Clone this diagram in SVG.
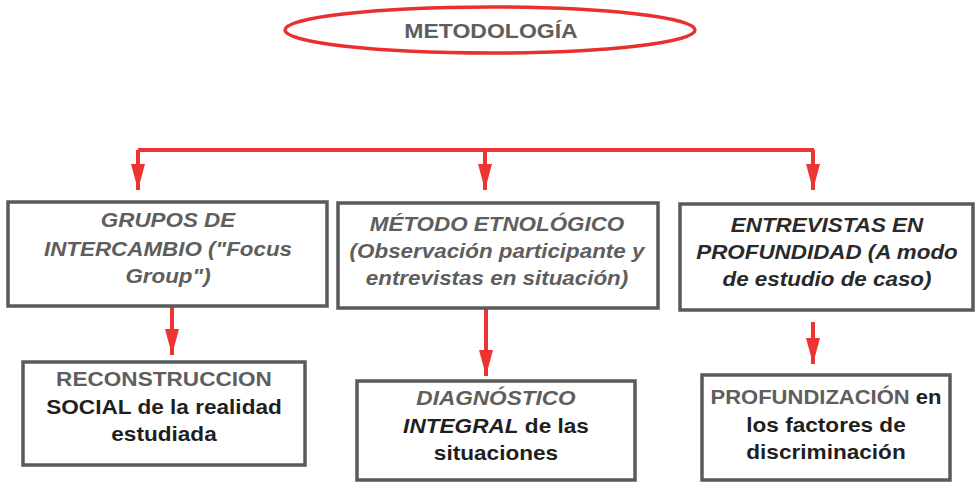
<svg xmlns="http://www.w3.org/2000/svg" width="977" height="484" viewBox="0 0 977 484">
<defs>
<style>
.box{fill:#fff;stroke:#5a5a5a;stroke-width:3.5}
.t{font-family:"Liberation Sans",Arial,sans-serif;font-size:20px;font-weight:bold;text-anchor:middle}
.i{font-style:italic}
.g{fill:#5e5e5e}
.d{fill:#1f1f1f}
.c{fill:none;stroke:#ee3333;stroke-width:4}
</style>
<marker id="ah" viewBox="0 0 26 14" refX="26" refY="7" markerWidth="26" markerHeight="14" markerUnits="userSpaceOnUse" orient="auto">
<path d="M0,0 L26,7 L0,14 z" fill="#ee3333"/>
</marker>
</defs>
<rect width="977" height="484" fill="#fff"/>
<g id="metodologia">
<ellipse cx="490" cy="30" rx="205" ry="23" fill="#fff" stroke="#e83030" stroke-width="3.5"/>
<text class="t g" transform="translate(491,0) scale(1.15,1)" x="0" y="38">METODOLOGÍA</text>
</g>
<g id="connectors">
<path class="c" d="M138,150 H814"/>
<path class="c" d="M138,150 V190" marker-end="url(#ah)"/>
<path class="c" d="M485,150 V190" marker-end="url(#ah)"/>
<path class="c" d="M813,150 V190" marker-end="url(#ah)"/>
<path class="c" d="M172,306 V355" marker-end="url(#ah)"/>
<path class="c" d="M486,308 V376" marker-end="url(#ah)"/>
<path class="c" d="M813,322 V364" marker-end="url(#ah)"/>
</g>
<g id="grupos">
<rect class="box" x="8" y="202" width="319" height="104"/>
<g class="t i g">
<text transform="translate(168,0) scale(1.12,1)" x="0" y="227">GRUPOS DE</text>
<text transform="translate(168,0) scale(1.12,1)" x="0" y="256">INTERCAMBIO ("Focus</text>
<text transform="translate(168,0) scale(1.12,1)" x="0" y="283">Group")</text>
</g>
</g>
<g id="metodo">
<rect class="box" x="338" y="203" width="320" height="105"/>
<g class="t i g">
<text transform="translate(497,0) scale(1.12,1)" x="0" y="231">MÉTODO ETNOLÓGICO</text>
<text transform="translate(497,0) scale(1.12,1)" x="0" y="258">(Observación participante y</text>
<text transform="translate(497,0) scale(1.12,1)" x="0" y="285">entrevistas en situación)</text>
</g>
</g>
<g id="entrevistas">
<rect class="box" x="680" y="204" width="293" height="106"/>
<g class="t i" fill="#2a2a2a">
<text transform="translate(827,0) scale(1.12,1)" x="0" y="232">ENTREVISTAS EN</text>
<text transform="translate(827,0) scale(1.12,1)" x="0" y="259">PROFUNDIDAD (A modo</text>
<text transform="translate(827,0) scale(1.12,1)" x="0" y="286">de estudio de caso)</text>
</g>
</g>
<g id="reconstruccion">
<rect class="box" x="23" y="362" width="282" height="103"/>
<text class="t g" transform="translate(164,0) scale(1.13,1)" x="0" y="386">RECONSTRUCCION</text>
<text class="t d" transform="translate(164,0) scale(1.13,1)" x="0" y="414">SOCIAL de la realidad</text>
<text class="t d" transform="translate(164,0) scale(1.13,1)" x="0" y="441">estudiada</text>
</g>
<g id="diagnostico">
<rect class="box" x="357" y="381" width="278" height="99"/>
<text class="t i g" transform="translate(496,0) scale(1.13,1)" x="0" y="405">DIAGNÓSTICO</text>
<text class="t d" transform="translate(496,0) scale(1.13,1)" x="0" y="433"><tspan class="i">INTEGRAL</tspan> de las</text>
<text class="t d" transform="translate(496,0) scale(1.13,1)" x="0" y="460">situaciones</text>
</g>
<g id="profundizacion">
<rect class="box" x="702" y="375" width="248" height="105"/>
<text class="t d" transform="translate(826,0) scale(1.1,1)" x="0" y="404"><tspan class="g">PROFUNDIZACIÓN</tspan> en</text>
<text class="t d" transform="translate(826,0) scale(1.13,1)" x="0" y="432">los factores de</text>
<text class="t d" transform="translate(826,0) scale(1.13,1)" x="0" y="459">discriminación</text>
</g>
</svg>
